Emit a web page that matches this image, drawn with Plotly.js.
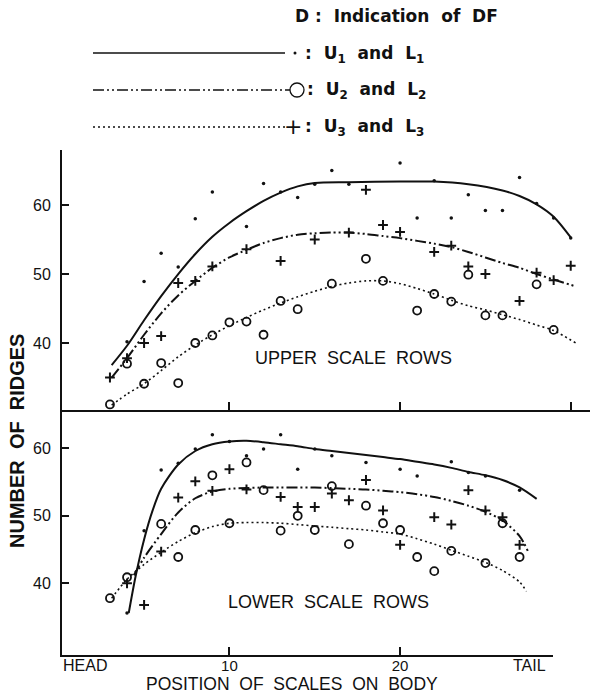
<!DOCTYPE html>
<html>
<head>
<meta charset="utf-8">
<script src="https://cdn.plot.ly/plotly-3.0.1.min.js"></script>
<style>html,body{margin:0;padding:0;background:#fff;}#chart{width:594px;height:694px;}</style>
</head>
<body>
<div id="chart"></div>
<script>
// ---------- data ----------
// Upper scale rows
var upDotX = [4,5,6,7,8,9,11,12,13,14,15,16,17,20,21,22,23,24,25,26,27,28,29,30];
var upDotY = [40.2,48.9,53.0,51.0,58.0,61.9,56.9,63.1,61.9,61.1,63.0,65.0,63.0,66.1,58.1,63.5,58.1,61.5,59.2,59.2,64.0,60.2,58.1,55.2];
var upCircX = [3,4,5,6,7,8,9,10,11,12,13,14,16,18,19,21,22,23,24,25,26,28,29];
var upCircY = [31.1,37.0,34.1,37.1,34.2,40.0,41.1,43.0,43.1,41.2,46.1,44.9,48.6,52.2,49.0,44.7,47.1,46.0,49.9,44.0,44.0,48.5,41.9];
var upCrossX = [3,4,5,6,7,8,9,11,13,15,17,18,19,20,22,23,24,25,27,28,29,30];
var upCrossY = [35.0,37.8,40.0,41.0,48.7,49.0,51.1,53.6,51.9,55.0,56.0,62.2,57.1,56.1,53.2,54.1,51.1,50.0,46.1,50.2,49.1,51.2];
// fitted curves, upper
var upSolidX = [3.1,4,5,6,7,8,9,10,11,12,13,14,15,17,20,22,24,26,27,28,29,30];
var upSolidY = [36.8,39.6,43.3,46.8,50.0,52.9,55.4,57.4,59.1,60.6,61.8,62.7,63.2,63.3,63.4,63.4,63.0,62.1,61.3,60.1,58.3,55.3];
var upDashX = [3.1,4,5,6,7,8,9,10,11,12,13,14,15,16,17,18,19,20,21,22,23,24,25,26,27,28,29,30.3];
var upDashY = [35.0,37.8,41.2,44.3,46.9,49.0,50.9,52.4,53.5,54.5,55.2,55.7,55.9,56.0,56.0,55.8,55.5,55.2,54.8,54.4,53.9,53.2,52.4,51.6,50.9,50.0,49.2,48.2];
var upDotLineX = [3.1,4,5,6,7,8,9,10,11,12,13,14,15,16,17,18,19,20,21,22,23,24,25,26,27,28,29,30.3];
var upDotLineY = [31.0,32.6,34.1,36.0,38.0,39.7,41.2,42.5,43.7,44.8,45.8,46.7,47.5,48.2,48.7,49.0,49.0,48.6,47.9,47.1,46.2,45.4,44.8,44.1,43.4,42.6,41.8,40.0];
// Lower scale rows
var loDotX = [4,5,6,7,8,9,10,11,12,13,14,15,16,18,20,21,23,24,25,27];
var loDotY = [35.6,47.8,56.8,57.8,59.9,62.0,61.0,58.9,59.9,62.0,56.9,59.9,58.9,57.9,56.9,55.9,58.0,56.4,55.9,53.8];
var loCircX = [3,4,6,7,8,9,10,11,12,13,14,15,16,17,18,19,20,21,22,23,25,26,27];
var loCircY = [37.8,40.9,48.8,43.9,47.9,56.0,48.9,57.9,53.8,47.8,50.0,47.9,54.4,45.8,51.5,48.9,47.9,43.9,41.8,44.8,43.0,48.9,43.9];
var loCrossX = [4,5,6,7,8,9,10,11,13,14,15,16,17,18,19,20,22,23,24,25,26,27];
var loCrossY = [40.0,36.8,44.7,52.7,55.1,53.7,56.9,53.9,52.8,51.3,51.3,53.3,52.3,55.3,50.8,45.7,49.8,48.7,53.8,50.8,49.8,45.7];
// fitted curves, lower
var loSolidX = [4.1,4.5,5,5.5,6,7,8,9,10,11,12,13,14,15,16,17,18,19,20,21,22,23,24,25,26,27,28];
var loSolidY = [35.6,41.0,46.5,50.8,54.0,57.6,59.6,60.6,61.0,61.1,60.9,60.6,60.3,59.9,59.6,59.3,59.0,58.7,58.4,58.0,57.6,57.1,56.5,56.0,55.3,54.2,52.5];
var loDashX = [4.4,5,6,7,8,9,10,11,12,13,14,15,16,17,18,19,20,21,22,23,24,25,26,27,27.5];
var loDashY = [41.2,43.8,47.3,50.5,52.6,53.6,54.0,54.1,54.2,54.2,54.2,54.2,54.1,54.0,53.9,53.7,53.5,53.2,52.8,52.2,51.5,50.6,49.3,47.0,44.7];
var loDotLineX = [3.1,4,5,6,7,8,9,10,11,12,13,14,15,16,17,18,19,20,21,22,23,24,25,26,27,27.4];
var loDotLineY = [37.8,40.6,42.8,44.6,46.2,47.5,48.4,48.9,49.0,49.0,48.9,48.7,48.5,48.3,48.1,47.9,47.6,47.3,46.6,45.8,44.9,44.0,43.1,41.9,40.2,38.8];

var yTicks = [40,50,60];
var xTicks = [10,20];
var xTicksUpper = [10,20,30];

// ---------- styles ----------
var K = '#111';
var DASHDOT = '11px,3px,2px,3px,2px,3px';
var DOTTED = '2px,3px';
function line(x, y, xa, ya, dash, w) {
  return {type:'scatter', mode:'lines', x:x, y:y, xaxis:xa, yaxis:ya,
    line:{color:K, width:w, dash:dash, shape:'spline', smoothing:0.8}, hoverinfo:'skip', showlegend:false};
}
function pts(x, y, xa, ya, sym, size, lw) {
  return {type:'scatter', mode:'markers', x:x, y:y, xaxis:xa, yaxis:ya,
    marker:{symbol:sym, size:size, color:K, line:{color:K, width:lw}}, hoverinfo:'skip', showlegend:false};
}

var traces = [
  line(upSolidX, upSolidY, 'x2', 'y2', 'solid', 2),
  line(upDashX, upDashY, 'x2', 'y2', DASHDOT, 2),
  line(upDotLineX, upDotLineY, 'x2', 'y2', DOTTED, 1.6),
  pts(upDotX, upDotY, 'x2', 'y2', 'circle', 3.5, 0),
  pts(upCircX, upCircY, 'x2', 'y2', 'circle-open', 8, 1.8),
  pts(upCrossX, upCrossY, 'x2', 'y2', 'cross-thin-open', 7, 2),
  line(loSolidX, loSolidY, 'x', 'y', 'solid', 2),
  line(loDashX, loDashY, 'x', 'y', DASHDOT, 2),
  line(loDotLineX, loDotLineY, 'x', 'y', DOTTED, 1.6),
  pts(loDotX, loDotY, 'x', 'y', 'circle', 3.5, 0),
  pts(loCircX, loCircY, 'x', 'y', 'circle-open', 8, 1.8),
  pts(loCrossX, loCrossY, 'x', 'y', 'cross-thin-open', 7, 2)
];

// pixel -> paper helpers (plot area: x 62..590, y 150..655)
function px(v){ return (v-62)/528; }
function py(v){ return (655-v)/505; }

var FONT = 'Liberation Sans, Arial, sans-serif';
var LFONT = 'DejaVu Sans, sans-serif';

function ann(x, y, text, size, family, extra) {
  var a = {xref:'paper', yref:'paper', x:px(x), y:py(y), text:text, showarrow:false,
    xanchor:'center', yanchor:'middle', font:{family:family, size:size, color:K}};
  if (extra) for (var k in extra) a[k] = extra[k];
  return a;
}

var layout = {
  width:594, height:694,
  margin:{l:62, r:4, t:150, b:39},
  paper_bgcolor:'#fff', plot_bgcolor:'#fff',
  showlegend:false,
  xaxis:{domain:[0,0.93], range:[0.19,28.96], anchor:'y', showline:true, linecolor:K, linewidth:2,
    showgrid:false, zeroline:false, ticks:'inside', ticklen:8, tickwidth:2, tickcolor:K,
    tickvals:xTicks, ticktext:xTicks.map(String), tickfont:{family:FONT, size:15, color:K}, ticklabelstandoff:-4},
  yaxis:{domain:[0,0.4851], range:[29.38,65.67], anchor:'x', showline:true, linecolor:K, linewidth:2,
    showgrid:false, zeroline:false, ticks:'inside', ticklen:7, tickwidth:2, tickcolor:K,
    tickvals:yTicks, tickfont:{family:FONT, size:16, color:K}, ticklabelstandoff:6},
  xaxis2:{domain:[0,1], range:[0.19,31.13], anchor:'y2', showline:true, linecolor:K, linewidth:2,
    showgrid:false, zeroline:false, ticks:'inside', ticklen:8, tickwidth:2, tickcolor:K,
    tickvals:xTicksUpper, showticklabels:false},
  yaxis2:{domain:[0.4851,1], range:[30.29,67.97], anchor:'x2', showline:true, linecolor:K, linewidth:2,
    showgrid:false, zeroline:false, ticks:'inside', ticklen:7, tickwidth:2, tickcolor:K,
    tickvals:yTicks, tickfont:{family:FONT, size:16, color:K}, ticklabelstandoff:6},
  annotations:[
    ann(353, 358, 'UPPER  SCALE  ROWS', 18, FONT),
    ann(328, 602, 'LOWER  SCALE  ROWS', 18, FONT),
    ann(85, 665, 'HEAD', 16, FONT),
    ann(529, 665, 'TAIL', 16, FONT),
    ann(292, 684, 'POSITION  OF  SCALES  ON  BODY', 17.5, FONT),
    ann(17, 441, '<b>NUMBER  OF  RIDGES</b>', 20, FONT, {textangle:-90}),
    ann(293, 16, '<b>D :  Indication  of  DF</b>', 17, LFONT, {xanchor:'left'}),
    ann(303, 54, '<b>:  U<sub>1</sub>  and  L<sub>1</sub></b>', 17, LFONT, {xanchor:'left'}),
    ann(305, 91, '<b>:  U<sub>2</sub>  and  L<sub>2</sub></b>', 17, LFONT, {xanchor:'left'}),
    ann(303, 128, '<b>:  U<sub>3</sub>  and  L<sub>3</sub></b>', 17, LFONT, {xanchor:'left'}),
    ann(293, 127, '+', 22, LFONT)
  ],
  shapes:[
    {type:'line', xref:'paper', yref:'paper', x0:px(93), x1:px(285), y0:py(53), y1:py(53), line:{color:K, width:1.5}},
    {type:'circle', xref:'paper', yref:'paper', x0:px(293.5), x1:px(296.5), y0:py(54.5), y1:py(51.5), fillcolor:K, line:{color:K, width:0}},
    {type:'line', xref:'paper', yref:'paper', x0:px(93), x1:px(290), y0:py(90), y1:py(90), line:{color:K, width:1.5, dash:DASHDOT}},
    {type:'circle', xref:'paper', yref:'paper', x0:px(290), x1:px(304), y0:py(97), y1:py(83), line:{color:K, width:1.3}},
    {type:'line', xref:'paper', yref:'paper', x0:px(93), x1:px(285), y0:py(127), y1:py(127), line:{color:K, width:1.5, dash:DOTTED}}
  ]
};

Plotly.newPlot('chart', traces, layout, {staticPlot:true, displayModeBar:false});
</script>
</body>
</html>
